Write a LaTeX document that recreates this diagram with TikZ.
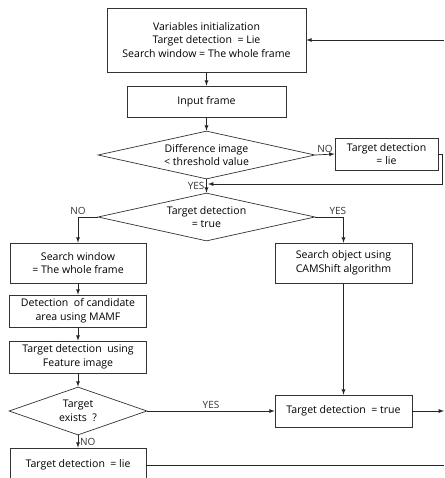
\documentclass[tikz,border=0pt]{standalone}
\usepackage{fontspec}
\setmainfont{Open Sans}
\usetikzlibrary{shapes.geometric,arrows}

\begin{document}
\begin{tikzpicture}[x=0.03cm,y=-0.03cm,>=latex]
  \tikzstyle{block} = [rectangle, draw=black!80, line width=0.6pt, text centered, align=center,
                                    inner sep=1pt, font=\fontsize{9}{11.6}\selectfont]
  \tikzstyle{decide} = [diamond, draw=black!80, line width=0.6pt, text centered, align=center,
                                    inner sep=0pt, aspect=4.5, font=\fontsize{9}{11.6}\selectfont]
  \tikzstyle{tag} = [inner sep=1.5pt, text=black!80, font=\fontsize{8.5}{9}\selectfont]
  \tikzstyle{line} = [draw=black!85, line width=0.6pt]
\useasboundingbox (0,0) rectangle (444,478);
\clip (0,0) rectangle (444,478);
\node[block, minimum width=5.97cm, minimum height=1.92cm] (init) at (206.5,40)
  {Variables initialization\\Target detection\ \ = Lie\\Search window = The whole frame};
\node[block, minimum width=4.77cm, minimum height=0.93cm] (input) at (206.5,101.5) {Input frame};
\node[decide, minimum width=6.51cm, minimum height=1.44cm] (diff) at (206.5,155)
  {Difference image\\< threshold value};
\node[block, minimum width=3.09cm, minimum height=0.96cm] (lieA) at (386.5,154)
  {Target detection\\= lie};
\node[decide, minimum width=6.51cm, minimum height=1.44cm] (found) at (206.5,217)
  {Target detection\\= true};
\node[block, minimum width=4.08cm, minimum height=1.2cm] (window) at (78,263)
  {Search window\\= The whole frame};
\node[block, minimum width=4.11cm, minimum height=1.2cm] (cam) at (343.5,263)
  {Search object using\\CAMShift algorithm};
\node[block, minimum width=4.11cm, minimum height=0.96cm] (mamf) at (78,311)
  {Detection\ \ of candidate\\area using MAMF};
\node[block, minimum width=4.11cm, minimum height=0.96cm] (feat) at (78,357)
  {Target detection\ \ using\\Feature image};
\node[decide, aspect=2.9, minimum width=4.14cm, minimum height=1.44cm] (exists) at (78,411)
  {Target\\exists\ \ ?};
\node[block, minimum width=4.11cm, minimum height=0.96cm] (trueB) at (343.5,411)
  {Target detection\ \ = true};
\node[block, minimum width=4.08cm, minimum height=1.02cm] (lieB) at (78,465)
  {Target detection\ \ = lie};
\coordinate (back) at (208,184);
\coordinate (loop) at (444,40);
\coordinate (out) at (444,411);
\coordinate (tail) at (444,465);
\draw[line,->] (loop) -- (init.east);
\draw[line,->] (init) -- (input);
\draw[line,->] (input) -- (diff);
\draw[line,->] (diff.east) -- node[tag,above]{NO} (lieA.west);
\draw[line,->] (lieA.east) -- ++(4,0) |- (back);
\draw[line,->] (diff.south) -- node[tag,left]{YES} (found.north);
\draw[line,->] (found.west) -| node[tag,above]{NO} (window.north);
\draw[line,->] (found.east) -| node[tag,above left,xshift=4pt]{YES} (cam.north);
\draw[line,->] (window) -- (mamf);
\draw[line,->] (mamf) -- (feat);
\draw[line,->] (feat) -- (exists);
\draw[line,->] (exists.east) -- node[tag,above]{YES} (trueB.west);
\draw[line,->] (exists.south) -- node[tag,right]{NO} (lieB.north);
\draw[line,->] (cam) -- (trueB);
\draw[line,->] (trueB.east) -- (out);
\draw[line] (lieB.east) -- (tail);
\end{tikzpicture}
\end{document}
